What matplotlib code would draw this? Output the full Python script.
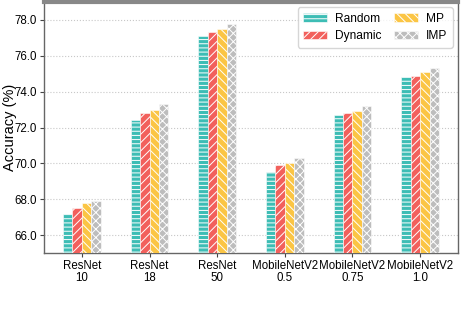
import numpy as np
import matplotlib.pyplot as plt

plt.rcParams['font.family'] = ['Liberation Sans', 'DejaVu Sans']
plt.rcParams['hatch.linewidth'] = 0.7

# Data
models = ["ResNet\n10", "ResNet\n18", "ResNet\n50",
          "MobileNetV2\n0.5", "MobileNetV2\n0.75", "MobileNetV2\n1.0"]
methods = ["Random", "Dynamic", "MP", "IMP"]
random_acc = [67.2, 72.4, 77.1, 69.5, 72.7, 74.8]
dynamic_acc = [67.5, 72.8, 77.3, 69.9, 72.8, 74.9]
mp_acc = [67.8, 73.0, 77.5, 70.0, 72.9, 75.1]
imp_acc = [67.9, 73.3, 77.8, 70.3, 73.2, 75.3]
yticks = [66.0, 68.0, 70.0, 72.0, 74.0, 76.0, 78.0]

colors = ['#3dbdb5', '#f2605c', '#fbc544', '#bdbdbd']
hatches = ['----', '////', '\\\\\\\\', 'xxxx']
series = [random_acc, dynamic_acc, mp_acc, imp_acc]

fig = plt.figure(figsize=(4.74, 3.27), dpi=100)
ax = fig.add_axes([44 / 474, 1 - 253 / 327, 414 / 474, 251 / 327])

x = np.arange(len(models))
width = 0.14
for i, vals in enumerate(series):
    ax.bar(x + (i - 1.5) * width, vals, width, color=colors[i],
           hatch=hatches[i], edgecolor='white', linewidth=0.4,
           label=methods[i], zorder=3)

ax.set_ylim(65.0, 79.0)
ax.set_xlim(-0.56, 5.56)
ax.set_yticks(yticks)
ax.set_yticklabels(["%.1f" % t for t in yticks], fontsize=8.3)
ax.set_xticks(x)
ax.set_xticklabels(models, fontsize=8.3, linespacing=1.0)
ax.set_ylabel("Accuracy (%)", fontsize=10.5)
ax.yaxis.set_label_coords(-0.066, 0.5)

ax.grid(True, axis='y', linestyle=':', color='#c8c8c8', linewidth=0.8, zorder=0)
for s in ax.spines.values():
    s.set_color('#666666')
    s.set_linewidth(1.0)
ax.spines['top'].set_linewidth(3.0)
ax.spines['top'].set_color('#888888')
ax.tick_params(axis='both', color='#444444', length=3, width=0.8, pad=2)

leg = ax.legend(ncol=2, fontsize=8.6, loc='upper right', frameon=True,
                handlelength=2.0, handleheight=0.7, columnspacing=1.0,
                borderaxespad=0.45, labelspacing=0.45, borderpad=0.45,
                handletextpad=0.7)
leg.get_frame().set_edgecolor('#cccccc')

fig.savefig("out.png", dpi=100)
